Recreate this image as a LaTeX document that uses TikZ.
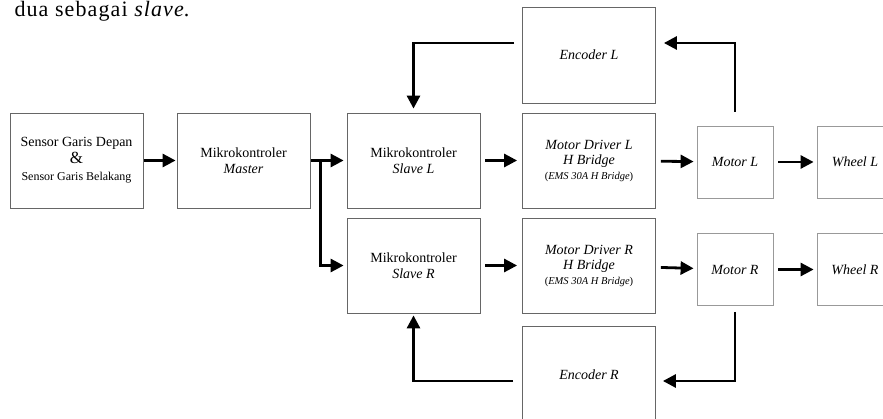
\documentclass[tikz,border=0pt]{standalone}
\usepackage{fontspec}
\setmainfont{Liberation Serif}
\usetikzlibrary{positioning, arrows.meta, calc}
\tikzstyle{block} = [rectangle, minimum width=133pt, minimum height=95pt, text centered, align=center, draw=black!60, line width=0.8pt, font=\fontsize{14}{16}\selectfont]
\tikzstyle{smallblock} = [rectangle, minimum width=76pt, minimum height=72pt, text centered, draw=black!40, line width=0.8pt, font=\fontsize{14}{16}\selectfont\itshape]
\tikzstyle{arrow} = [line width=2.8pt, -{Triangle[length=13pt,width=13pt]}, shorten <=3pt, shorten >=3pt]

\begin{document}
\begin{tikzpicture}[node distance=170pt, x=1pt, y=-1pt]
	\useasboundingbox (0,0) rectangle (883,419);
	
	\node (caption) [anchor=base west, font=\fontsize{22}{24}\selectfont\addfontfeatures{LetterSpace=5}] at (11,17) {dua sebagai \textit{slave}.};
	
	\node (sensor) [block] at (76.5,160.5) {Sensor Garis Depan\\[1pt]{\fontsize{17}{17}\selectfont\&}\\[1pt]{\fontsize{12}{14}\selectfont Sensor Garis Belakang}};
	
	\node (master) [block, right of=sensor, xshift=-3pt] {Mikrokontroler\\\textit{Master}};
	
	\node (slaveL) [block, right of=master] {Mikrokontroler\\\textit{Slave L}};
	
	\node (slaveR) [block, below of=slaveL, yshift=65pt] {Mikrokontroler\\\textit{Slave R}};
	
	\node (drvL) [block, right of=slaveL, xshift=5.5pt] {\textit{Motor Driver L}\\[-1pt]\textit{H Bridge}\\[-1pt]{\fontsize{10.5}{12}\selectfont(\textit{EMS 30A H Bridge})}};
	
	\node (drvR) [block, below of=drvL, yshift=65pt] {\textit{Motor Driver R}\\[-1pt]\textit{H Bridge}\\[-1pt]{\fontsize{10.5}{12}\selectfont(\textit{EMS 30A H Bridge})}};
	
	\node (encL) [block, above of=drvL, yshift=-64.5pt, minimum height=96pt] {\textit{Encoder L}};
	
	\node (encR) [block, below of=drvR, yshift=60.5pt, minimum height=98pt] {\textit{Encoder R}};
	
	\node (motorL) [smallblock, right of=drvL, xshift=-24pt, yshift=-1.5pt] {Motor L};
	
	\node (wheelL) [smallblock, right of=motorL, xshift=-50pt] {Wheel L};
	
	\node (motorR) [smallblock, below of=motorL, yshift=62.5pt] {Motor R};
	
	\node (wheelR) [smallblock, right of=motorR, xshift=-50pt] {Wheel R};
	
	\coordinate (split) at ([xshift=10pt]master.east);
	
	\draw [arrow, shorten <=1pt, shorten >=1pt] (sensor) -- (master);
	\draw [arrow, shorten <=1pt] (master) -- (slaveL);
	\draw [arrow, shorten <=0pt] (split) |- (slaveR);
	
	\draw [arrow, shorten <=5pt, shorten >=5pt] (slaveL) -- (drvL);
	\draw [arrow, shorten <=5pt, shorten >=5pt] (slaveR) -- (drvR);
	\draw [arrow, shorten <=5pt] (drvL) -- (motorL);
	\draw [arrow, shorten <=5pt] (drvR) -- (motorR);
	\draw [arrow, shorten <=5pt] (motorL) -- (wheelL);
	\draw [arrow, shorten <=5pt] (motorR) -- (wheelR);
	
	\draw [arrow, shorten <=8pt, shorten >=4pt] ([yshift=12pt]encL.west) -| (slaveL.north);
	\draw [arrow, shorten <=14pt, shorten >=8pt] (motorL.north) |- ([yshift=12pt]encL.east);
	\draw [arrow, shorten <=9pt, shorten >=2pt] ([yshift=-6pt]encR.west) -| (slaveR.south);
	\draw [arrow, shorten <=6pt, shorten >=7pt] (motorR.south) |- ([yshift=-6pt]encR.east);
\end{tikzpicture}
\end{document}
